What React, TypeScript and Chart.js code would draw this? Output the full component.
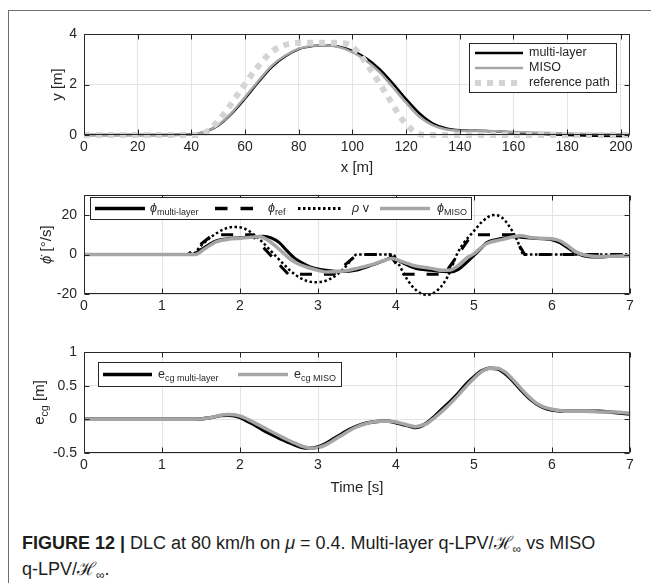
import React, { useEffect, useRef } from "react";
import { Chart, registerables } from "chart.js";

Chart.register(...registerables);

const FONT = "'Liberation Sans', Arial, Helvetica, sans-serif";
const INK = "#262626";
const GRID = "#e4e4e4";
const BLACK = "#000000";
const GRAY = "#a6a6a6";
const LIGHT = "#d4d4d4";

// ---------- top panel: path y [m] vs x [m]
const pathX = [0, 20, 40, 45, 50, 55, 60, 65, 70, 75, 80, 85, 90, 95, 100, 105, 110, 115, 120, 125, 130, 135, 140, 150, 160, 170, 180, 190, 203];
const pathMulti = [0, 0, 0.02, 0.12, 0.38, 0.85, 1.45, 2.1, 2.7, 3.12, 3.4, 3.52, 3.55, 3.5, 3.33, 3.05, 2.62, 2.05, 1.42, 0.85, 0.45, 0.26, 0.19, 0.16, 0.1, 0.05, 0.0, -0.03, -0.05];
const pathMiso = [0, 0, 0.02, 0.12, 0.4, 0.88, 1.5, 2.15, 2.75, 3.15, 3.42, 3.53, 3.55, 3.48, 3.28, 2.95, 2.5, 1.9, 1.28, 0.72, 0.38, 0.22, 0.17, 0.16, 0.12, 0.09, 0.06, 0.04, 0.03];
const refX = [0, 42, 46, 52, 58, 64, 70, 76, 82, 96, 101, 107, 113, 119, 124, 128, 203];
const refY = [0, 0, 0.15, 0.82, 1.72, 2.6, 3.3, 3.6, 3.65, 3.65, 3.4, 2.55, 1.55, 0.55, 0.08, 0, 0];

// ---------- middle panel: yaw rate [deg/s] vs time [s]
const tMulti = [0, 1.38, 1.5, 1.6, 1.7, 1.85, 2.0, 2.15, 2.3, 2.4, 2.5, 2.6, 2.7, 2.8, 2.9, 3.0, 3.1, 3.3, 3.5, 3.7, 3.85, 3.95, 4.05, 4.25, 4.45, 4.7, 4.8, 4.9, 5.0, 5.1, 5.16, 5.29, 5.4, 5.5, 5.6, 5.75, 5.9, 6.0, 6.1, 6.2, 6.3, 6.45, 6.6, 6.8, 7.0];
const phiMulti = [0, 0, 2.5, 5, 7, 8, 8.5, 9, 9.3, 8.5, 6.2, 2, -1.8, -4.3, -6.2, -7.3, -8, -8.6, -7.8, -5.2, -3, -1.5, -3.5, -7, -8, -8.8, -7.5, -4.2, -0.5, 3.5, 6, 7.7, 8.5, 9, 8.8, 8.3, 8, 7.5, 6, 3.5, 1, -1, -1.3, -0.8, -0.5];
const tMiso = [0, 1.42, 1.55, 1.7, 1.85, 2.0, 2.15, 2.25, 2.35, 2.45, 2.55, 2.65, 2.75, 2.85, 3.0, 3.1, 3.3, 3.5, 3.7, 3.85, 3.95, 4.05, 4.25, 4.45, 4.6, 4.7, 4.8, 4.9, 5.0, 5.16, 5.37, 5.5, 5.6, 5.75, 5.9, 6.0, 6.1, 6.2, 6.3, 6.45, 6.6, 6.8, 7.0];
const phiMiso = [0, 0, 3, 6.5, 7.8, 8.3, 8.8, 9.2, 7.5, 4.5, 1, -2.5, -4.8, -6.3, -8, -8.8, -8.5, -7, -5, -3, -2, -3.2, -5.8, -7, -8, -7.8, -5.5, -2, 0.5, 5.5, 7.7, 9, 9.5, 8.5, 8.2, 8, 7, 4.5, 1.5, -0.5, -1, -0.8, -0.5];
const tRef = [0, 1.33, 1.65, 2.15, 2.62, 3.2, 3.5, 3.92, 4.1, 4.62, 4.97, 5.5, 5.65, 7];
const phiRef = [0, 0, 10, 10, -10, -10, 0, 0, -10, -10, 10, 10, 0, 0];
const tRho = [0, 1.38, 1.5, 1.65, 1.8, 1.92, 2.05, 2.2, 2.32, 2.44, 2.55, 2.7, 2.85, 2.98, 3.1, 3.25, 3.38, 3.5, 3.96, 4.05, 4.15, 4.27, 4.4, 4.52, 4.62, 4.7, 4.78, 4.88, 4.99, 5.1, 5.25, 5.35, 5.45, 5.55, 5.64, 7];
const rhoV = [0, 0, 4.5, 9.5, 13, 14, 13.3, 9.5, 5, 0, -4.5, -10, -13.3, -14, -13.3, -10, -5, 0, 0, -6, -13, -18.5, -20.5, -18.5, -14, -8, 0, 6.5, 11.5, 16.5, 20, 19, 14.5, 7.5, 0, 0];

// ---------- bottom panel: lateral error e_cg [m] vs time [s]
const tE = [0, 1.4, 1.6, 1.75, 1.85, 2.0, 2.1, 2.2, 2.3, 2.4, 2.5, 2.6, 2.7, 2.8, 2.9, 3.0, 3.1, 3.2, 3.3, 3.4, 3.5, 3.6, 3.7, 3.8, 3.9, 4.0, 4.1, 4.2, 4.25, 4.3, 4.4, 4.5, 4.6, 4.7, 4.8, 4.9, 5.0, 5.1, 5.2, 5.3, 5.4, 5.5, 5.6, 5.7, 5.8, 5.9, 6.0, 6.2, 6.4, 6.6, 6.8, 7.0];
const eMulti = [0, 0, 0.02, 0.055, 0.06, 0.03, -0.03, -0.09, -0.16, -0.22, -0.28, -0.33, -0.38, -0.42, -0.43, -0.41, -0.36, -0.29, -0.22, -0.15, -0.1, -0.06, -0.04, -0.03, -0.03, -0.05, -0.08, -0.11, -0.12, -0.11, -0.05, 0.05, 0.16, 0.27, 0.39, 0.52, 0.63, 0.72, 0.76, 0.75, 0.68, 0.57, 0.44, 0.32, 0.23, 0.17, 0.14, 0.12, 0.12, 0.12, 0.1, 0.08];
const eMiso = [0, 0, 0.02, 0.06, 0.07, 0.05, 0.0, -0.06, -0.12, -0.18, -0.24, -0.3, -0.35, -0.4, -0.43, -0.42, -0.38, -0.31, -0.24, -0.17, -0.11, -0.07, -0.04, -0.03, -0.03, -0.04, -0.07, -0.1, -0.11, -0.1, -0.06, 0.03, 0.13, 0.24, 0.36, 0.49, 0.61, 0.71, 0.76, 0.76, 0.7, 0.59, 0.46, 0.34, 0.24, 0.18, 0.15, 0.12, 0.12, 0.11, 0.11, 0.09];

type Seg = { t: string; sub?: boolean; it?: boolean };
type LineStyle = { color: string; width: number; dash?: number[] };
type LegendItem = { x1: number; x2: number; y: number; style: LineStyle; tx: number; segs: Seg[] };
type Deco = {
  xTitle?: Seg[];
  xTitleY?: number;
  yTitle: Seg[];
  yTitleX: number;
  legend: { box: [number, number, number, number]; size: number; items: LegendItem[] };
};

function setFont(ctx: CanvasRenderingContext2D, size: number, s: Seg) {
  const px = s.sub ? size * 0.72 : size;
  ctx.font = `${s.it ? "italic " : ""}${px}px ${FONT}`;
}
function richWidth(ctx: CanvasRenderingContext2D, segs: Seg[], size: number) {
  let w = 0;
  for (const s of segs) {
    setFont(ctx, size, s);
    w += ctx.measureText(s.t).width;
  }
  return w;
}
function drawRich(ctx: CanvasRenderingContext2D, segs: Seg[], x: number, y: number, size: number, center: boolean) {
  let cx = center ? x - richWidth(ctx, segs, size) / 2 : x;
  ctx.textBaseline = "middle";
  ctx.textAlign = "left";
  for (const s of segs) {
    setFont(ctx, size, s);
    ctx.fillText(s.t, cx, s.sub ? y + size * 0.32 : y);
    cx += ctx.measureText(s.t).width;
  }
}

function makeDeco(deco: Deco) {
  return {
    id: "matlabDeco",
    afterDatasetsDraw(chart: any) {
      const { ctx, chartArea: a } = chart;
      const xs = chart.scales.x;
      const ys = chart.scales.y;
      const L = Math.round(a.left) + 0.5;
      const R = Math.round(a.right) - 0.5;
      const T = Math.round(a.top) + 0.5;
      const B = Math.round(a.bottom) - 0.5;
      ctx.save();
      ctx.setLineDash([]);
      ctx.strokeStyle = INK;
      ctx.lineWidth = 1;
      ctx.beginPath();
      ctx.rect(L, T, R - L, B - T);
      ctx.stroke();
      const tl = 5;
      ctx.beginPath();
      for (const t of xs.ticks) {
        const p = Math.round(xs.getPixelForValue(t.value)) + 0.5;
        ctx.moveTo(p, B);
        ctx.lineTo(p, B - tl);
        ctx.moveTo(p, T);
        ctx.lineTo(p, T + tl);
      }
      for (const t of ys.ticks) {
        const p = Math.round(ys.getPixelForValue(t.value)) + 0.5;
        ctx.moveTo(L, p);
        ctx.lineTo(L + tl, p);
        ctx.moveTo(R, p);
        ctx.lineTo(R - tl, p);
      }
      ctx.stroke();

      ctx.fillStyle = INK;
      if (deco.xTitle && deco.xTitleY !== undefined) {
        drawRich(ctx, deco.xTitle, (a.left + a.right) / 2, deco.xTitleY, 15, true);
      }
      ctx.save();
      ctx.translate(deco.yTitleX, (a.top + a.bottom) / 2);
      ctx.rotate(-Math.PI / 2);
      drawRich(ctx, deco.yTitle, 0, 0, 15, true);
      ctx.restore();

      const lg = deco.legend;
      const [x0, y0, x1, y1] = lg.box;
      ctx.fillStyle = "#ffffff";
      ctx.fillRect(x0, y0, x1 - x0, y1 - y0);
      ctx.strokeStyle = INK;
      ctx.lineWidth = 1;
      ctx.strokeRect(x0 + 0.5, y0 + 0.5, x1 - x0 - 1, y1 - y0 - 1);
      for (const it of lg.items) {
        ctx.beginPath();
        ctx.strokeStyle = it.style.color;
        ctx.lineWidth = it.style.width;
        ctx.setLineDash(it.style.dash || []);
        ctx.lineCap = "butt";
        ctx.moveTo(it.x1, it.y);
        ctx.lineTo(it.x2, it.y);
        ctx.stroke();
        ctx.setLineDash([]);
        ctx.fillStyle = INK;
        drawRich(ctx, it.segs, it.tx, it.y, lg.size, false);
      }
      ctx.restore();
    },
  };
}

type Series = { xs: number[]; ys: number[]; style: LineStyle; smooth: boolean; order: number };

type PanelCfg = {
  height: number;
  padTop: number;
  xScaleH: number;
  xMin: number;
  xMax: number;
  xStep: number;
  yMin: number;
  yMax: number;
  yStep: number;
  series: Series[];
  deco: Deco;
};

function buildChart(canvas: HTMLCanvasElement, cfg: PanelCfg) {
  const tickFont = { family: FONT, size: 14 };
  return new Chart(canvas, {
    type: "line",
    data: {
      datasets: cfg.series.map((s) => ({
        data: s.xs.map((x, i) => ({ x, y: s.ys[i] })),
        borderColor: s.style.color,
        borderWidth: s.style.width,
        borderDash: s.style.dash || [],
        borderCapStyle: "butt",
        pointRadius: 0,
        fill: false,
        tension: 0,
        cubicInterpolationMode: s.smooth ? "monotone" : "default",
        order: s.order,
        clip: false,
      })) as any,
    },
    options: {
      animation: false,
      responsive: false,
      devicePixelRatio: 1,
      events: [],
      layout: { padding: { left: 0, right: 21, top: cfg.padTop, bottom: 0 } },
      plugins: { legend: { display: false }, tooltip: { enabled: false }, title: { display: false } },
      scales: {
        x: {
          type: "linear",
          min: cfg.xMin,
          max: cfg.xMax,
          ticks: {
            stepSize: cfg.xStep,
            includeBounds: false,
            autoSkip: false,
            maxRotation: 0,
            padding: 4,
            color: INK,
            font: tickFont,
            callback: (v: any) => String(v),
          },
          grid: { color: GRID, lineWidth: 1, drawTicks: false },
          border: { display: false },
          afterFit: (s: any) => {
            s.height = cfg.xScaleH;
          },
        },
        y: {
          type: "linear",
          min: cfg.yMin,
          max: cfg.yMax,
          ticks: {
            stepSize: cfg.yStep,
            includeBounds: false,
            autoSkip: false,
            padding: 7,
            color: INK,
            font: tickFont,
            callback: (v: any) => String(v),
          },
          grid: { color: GRID, lineWidth: 1, drawTicks: false },
          border: { display: false },
          afterFit: (s: any) => {
            s.width = 84;
          },
        },
      },
    } as any,
    plugins: [makeDeco(cfg.deco)],
  });
}

const topCfg: PanelCfg = {
  height: 180,
  padTop: 34,
  xScaleH: 45,
  xMin: 0,
  xMax: 203.4,
  xStep: 20,
  yMin: 0,
  yMax: 4,
  yStep: 2,
  series: [
    { xs: pathX, ys: pathMulti, style: { color: BLACK, width: 2.5 }, smooth: true, order: 2 },
    { xs: pathX, ys: pathMiso, style: { color: GRAY, width: 2.5 }, smooth: true, order: 1 },
    { xs: refX, ys: refY, style: { color: LIGHT, width: 6, dash: [6, 6] }, smooth: true, order: 0 },
  ],
  deco: {
    xTitle: [{ t: "x [m]" }],
    xTitleY: 168,
    yTitle: [{ t: "y [m]" }],
    yTitleX: 58,
    legend: {
      box: [469, 43, 617, 93],
      size: 12.5,
      items: [
        { x1: 475, x2: 523, y: 53, style: { color: BLACK, width: 2.5 }, tx: 529, segs: [{ t: "multi-layer" }] },
        { x1: 475, x2: 523, y: 68, style: { color: GRAY, width: 2.5 }, tx: 529, segs: [{ t: "MISO" }] },
        { x1: 475, x2: 523, y: 83, style: { color: LIGHT, width: 6, dash: [6, 6] }, tx: 529, segs: [{ t: "reference path" }] },
      ],
    },
  },
};

const midCfg: PanelCfg = {
  height: 150,
  padTop: 14,
  xScaleH: 36,
  xMin: 0,
  xMax: 7,
  xStep: 1,
  yMin: -20,
  yMax: 30,
  yStep: 20,
  series: [
    { xs: tMulti, ys: phiMulti, style: { color: BLACK, width: 3 }, smooth: true, order: 3 },
    { xs: tRef, ys: phiRef, style: { color: BLACK, width: 3, dash: [12, 12] }, smooth: false, order: 2 },
    { xs: tRho, ys: rhoV, style: { color: BLACK, width: 2.5, dash: [2.5, 2.5] }, smooth: true, order: 1 },
    { xs: tMiso, ys: phiMiso, style: { color: GRAY, width: 3.5 }, smooth: true, order: 0 },
  ],
  deco: {
    yTitle: [{ t: "\u03d5\u0307", it: true }, { t: " [°/s]" }],
    yTitleX: 47,
    legend: {
      box: [90, 17, 472, 40],
      size: 12.5,
      items: [
        { x1: 95, x2: 145, y: 28.5, style: { color: BLACK, width: 3.5 }, tx: 150, segs: [{ t: "\u03d5", it: true }, { t: "multi-layer", sub: true }] },
        { x1: 215, x2: 253, y: 28.5, style: { color: BLACK, width: 3.5, dash: [12.5, 13] }, tx: 268, segs: [{ t: "\u03d5", it: true }, { t: "ref", sub: true }] },
        { x1: 298, x2: 342, y: 28.5, style: { color: BLACK, width: 3, dash: [2.5, 2.5] }, tx: 352, segs: [{ t: "\u03c1", it: true }, { t: " v" }] },
        { x1: 380, x2: 430, y: 28.5, style: { color: GRAY, width: 3.5 }, tx: 437, segs: [{ t: "\u03d5", it: true }, { t: "MISO", sub: true }] },
      ],
    },
  },
};

const botCfg: PanelCfg = {
  height: 170,
  padTop: 22,
  xScaleH: 47,
  xMin: 0,
  xMax: 7,
  xStep: 1,
  yMin: -0.5,
  yMax: 1,
  yStep: 0.5,
  series: [
    { xs: tE, ys: eMulti, style: { color: BLACK, width: 3.5 }, smooth: true, order: 1 },
    { xs: tE, ys: eMiso, style: { color: GRAY, width: 3.5 }, smooth: true, order: 0 },
  ],
  deco: {
    xTitle: [{ t: "Time [s]" }],
    xTitleY: 158,
    yTitle: [{ t: "e" }, { t: "cg", sub: true }, { t: " [m]" }],
    yTitleX: 40,
    legend: {
      box: [98, 32, 342, 57],
      size: 12.5,
      items: [
        { x1: 103, x2: 152, y: 44.5, style: { color: BLACK, width: 3.5 }, tx: 158, segs: [{ t: "e" }, { t: "cg multi-layer", sub: true }] },
        { x1: 238, x2: 288, y: 44.5, style: { color: GRAY, width: 3.5 }, tx: 294, segs: [{ t: "e" }, { t: "cg MISO", sub: true }] },
      ],
    },
  },
};

export default function App() {
  const c1 = useRef<HTMLCanvasElement>(null);
  const c2 = useRef<HTMLCanvasElement>(null);
  const c3 = useRef<HTMLCanvasElement>(null);

  useEffect(() => {
    const charts = [
      buildChart(c1.current!, topCfg),
      buildChart(c2.current!, midCfg),
      buildChart(c3.current!, botCfg),
    ];
    return () => charts.forEach((c) => c.destroy());
  }, []);

  const subStyle: React.CSSProperties = { fontSize: 12, verticalAlign: "-4px", lineHeight: 0 };

  return (
    <div style={{ position: "absolute", left: 0, top: 0, width: 651, height: 583, background: "#fff", overflow: "hidden" }}>
      <div
        style={{
          position: "absolute",
          left: 8,
          top: 10,
          width: 643,
          height: 573,
          borderLeft: "1px solid #6e6e6e",
          borderTop: "1px solid #6e6e6e",
        }}
      />
      <canvas ref={c1} width={651} height={180} style={{ position: "absolute", left: 0, top: 0, display: "block" }} />
      <canvas ref={c2} width={651} height={150} style={{ position: "absolute", left: 0, top: 180, display: "block" }} />
      <canvas ref={c3} width={651} height={170} style={{ position: "absolute", left: 0, top: 330, display: "block" }} />
      <div
        style={{
          position: "absolute",
          left: 22,
          top: 530,
          fontFamily: FONT,
          fontSize: 18,
          lineHeight: "26px",
          color: "#1d1d1b",
          whiteSpace: "nowrap",
        }}
      >
        <span style={{ fontWeight: 700 }}>FIGURE 12 |</span> DLC at 80 km/h on <i>μ</i> = 0.4. Multi-layer q-LPV/ℋ
        <sub style={subStyle}>∞</sub> vs MISO
        <br />
        q-LPV/ℋ<sub style={subStyle}>∞</sub>.
      </div>
    </div>
  );
}
